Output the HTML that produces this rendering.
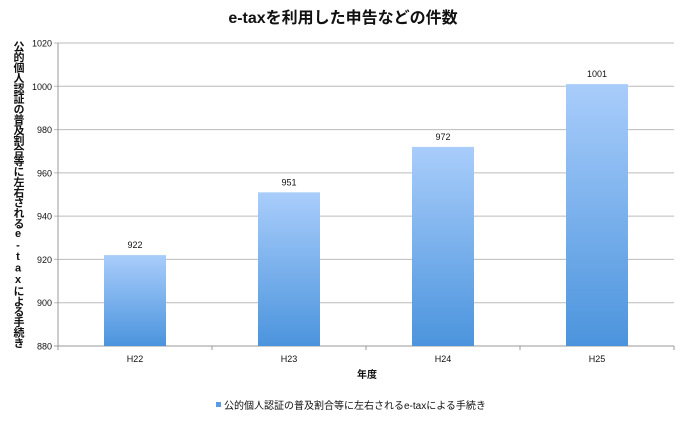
<!DOCTYPE html>
<html><head><meta charset="utf-8"><style>
body{margin:0;background:#fff;}
svg text{font-family:"Liberation Sans","Noto Sans CJK JP",sans-serif;}
</style></head><body>
<svg width="685" height="417" viewBox="0 0 685 417" xmlns="http://www.w3.org/2000/svg">
<defs><linearGradient id="g" x1="0" y1="0" x2="0" y2="1"><stop offset="0" stop-color="#a9cdfb"/><stop offset="1" stop-color="#4b94dd"/></linearGradient></defs>
<text x="343" y="23" text-anchor="middle" font-size="16" font-weight="bold" fill="#111">e-taxを利用した申告などの件数</text>
<g id="grid"></g><g id="bars"></g><g id="axes"></g>
<text x="18" y="41" font-size="11" font-weight="bold" fill="#111" style="writing-mode:vertical-rl;text-orientation:upright;letter-spacing:-0.6px">公的個人認証の普及割合等に左右されるe-taxによる手続き</text>
<text x="367" y="378" text-anchor="middle" font-size="10" font-weight="bold" fill="#111">年度</text>
<rect x="216" y="402" width="5" height="5" fill="#5b9be3"/>
<text x="224" y="409" font-size="10" fill="#111">公的個人認証の普及割合等に左右されるe-taxによる手続き</text>
</svg>
<script>
const categories=["H22","H23","H24","H25"];
const values=[922,951,972,1001];
const yTicks=[880,900,920,940,960,980,1000,1020];
const ns="http://www.w3.org/2000/svg";
const X0=58,X1=674,Y0=346,Y1=43,YMIN=880,YMAX=1020;
const y=v=>Y0-(v-YMIN)/(YMAX-YMIN)*(Y0-Y1);
const bw=(X1-X0)/categories.length;
const x=i=>X0+bw*i;
function mk(tag,attrs,parent,txt){const e=document.createElementNS(ns,tag);for(const k in attrs)e.setAttribute(k,attrs[k]);if(txt!==undefined)e.textContent=txt;document.getElementById(parent).appendChild(e);return e;}
yTicks.forEach(t=>{
 const l=mk('line',{x1:X0-4,x2:X1,y1:y(t),y2:y(t),stroke:t===YMIN?'#999':'#bbb','stroke-width':1},'grid');
 
 
 const tx=mk('text',{x:X0-6,y:y(t)+3.5,'text-anchor':'end','font-size':9,fill:'#111'},'axes',t);
 
 
});
const ax=mk('line',{x1:X0,x2:X0,y1:Y1,y2:Y0+4,stroke:'#999'},'axes');


for(let i=0;i<=categories.length;i++){
 const t=mk('line',{x1:x(i),x2:x(i),y1:Y0,y2:Y0+4,stroke:'#999'},'axes');
 
 
}
categories.forEach((c,i)=>{
 const cx=x(i)+bw/2,w=62;
 const r=mk('rect',{x:cx-w/2,y:y(values[i]),width:w,height:Y0-y(values[i]),fill:'url(#g)'},'bars');
 
 
 const v=mk('text',{x:cx,y:y(values[i])-7,'text-anchor':'middle','font-size':9,fill:'#111'},'bars',values[i]);
 
 
 const l=mk('text',{x:cx,y:362,'text-anchor':'middle','font-size':9,fill:'#111'},'axes',c);
 
 
});
</script>
</body></html>
